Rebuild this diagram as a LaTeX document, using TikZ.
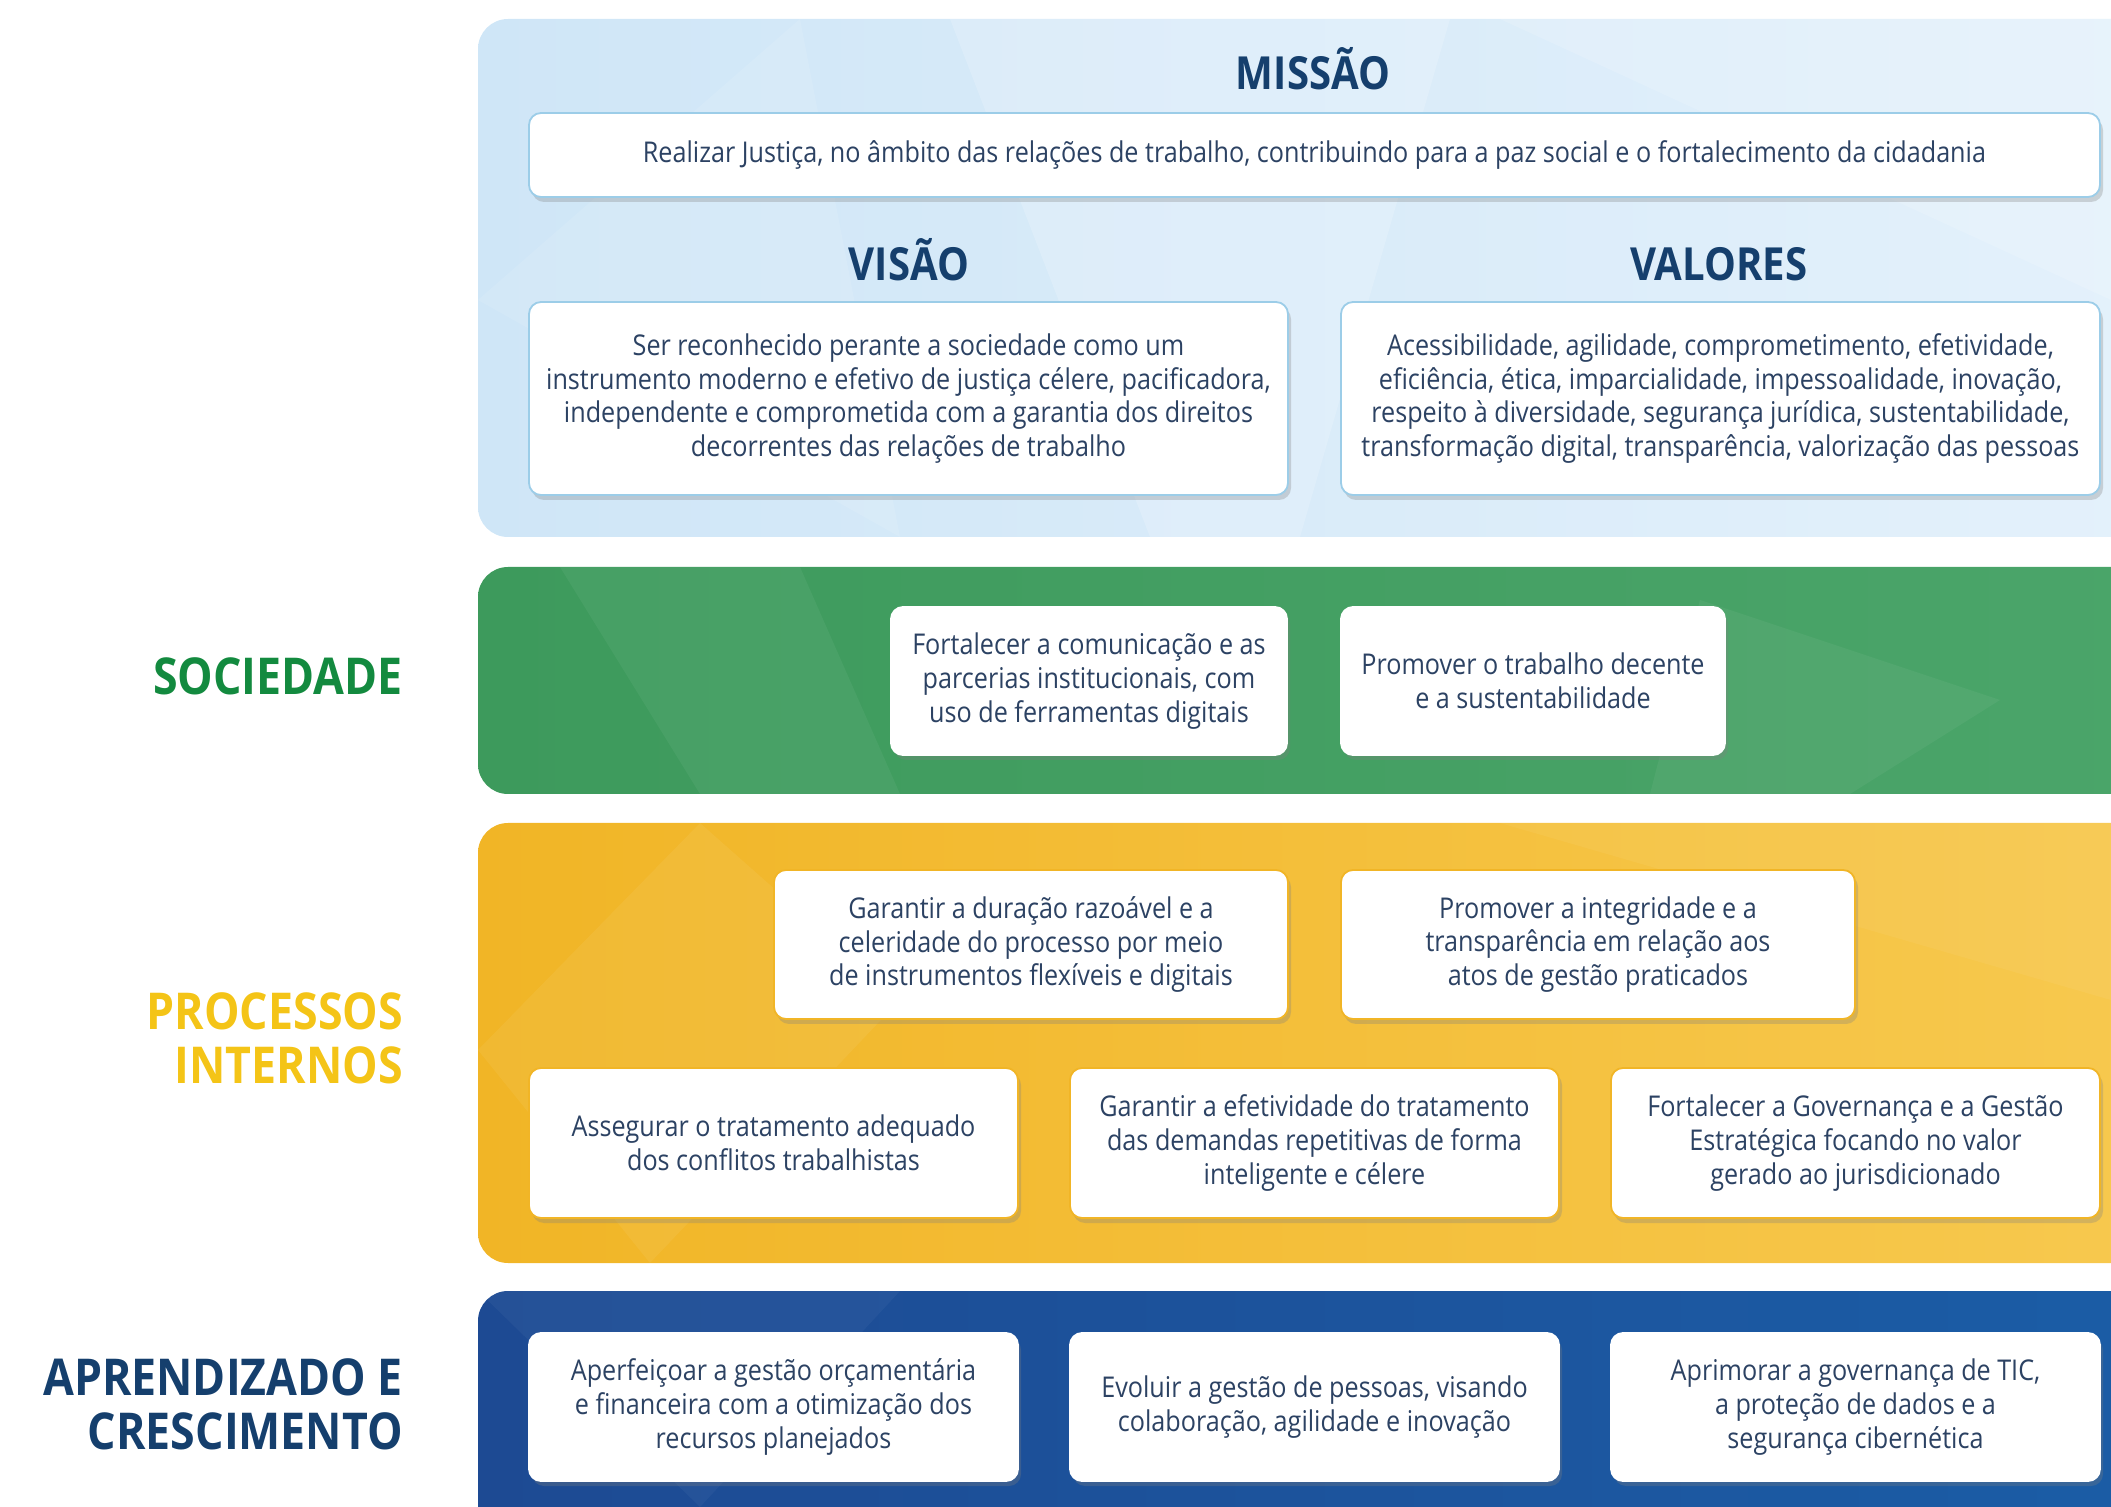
\documentclass[tikz,border=0pt]{standalone}
\usepackage{fontspec}
\setmainfont{Open Sans}[FakeStretch=0.88]
\usetikzlibrary{shadows}

\definecolor{titlenavy}{HTML}{153F6D}
\definecolor{bodynavy}{HTML}{2C4263}
\definecolor{skyleft}{HTML}{CFE6F7}
\definecolor{skyright}{HTML}{E4F1FB}
\definecolor{skyline}{HTML}{9CCDE8}
\definecolor{leafleft}{HTML}{3D9A5C}
\definecolor{leafright}{HTML}{4BA56A}
\definecolor{leaflabel}{HTML}{138A3F}
\definecolor{sunleft}{HTML}{F1B526}
\definecolor{sunright}{HTML}{F7C94F}
\definecolor{sunlabel}{HTML}{F4C417}
\definecolor{seaLeft}{HTML}{1D4A93}
\definecolor{seaRight}{HTML}{1B5DA6}

\tikzset{
  panel/.style={rounded corners=15pt},
  objbox/.style={draw=#1, fill=white, rounded corners=6pt, line width=0.9pt,
    align=center, text=bodynavy, inner sep=2pt,
    font=\fontsize{14.3}{16.8}\selectfont,
    drop shadow={shadow xshift=1.5pt, shadow yshift=-2.5pt, opacity=0.3}},
  heading/.style={text=titlenavy, anchor=base, font=\fontsize{22.8}{26}\selectfont\bfseries},
  perspective/.style={text=#1, anchor=east, align=right,
    font=\fontsize{25.4}{27}\selectfont\bfseries},
}

\begin{document}
\begin{tikzpicture}[x=0.5pt, y=-0.5pt]
\useasboundingbox (0,0) rectangle (2111,1507);

% faixas de fundo
\begin{scope}
  \clip (0,0) rectangle (2111,1507);
  \shade[panel, left color=skyleft, right color=skyright] (478,19) rectangle (2170,537);
  \shade[panel, left color=leafleft, right color=leafright] (478,567) rectangle (2170,794);
  \shade[panel, left color=sunleft, right color=sunright] (478,823) rectangle (2170,1263);
  \shade[panel, left color=seaLeft, right color=seaRight] (478,1291) rectangle (2170,1560);
  % texturas
  \begin{scope}
    \clip[panel] (478,19) rectangle (2170,537);
    \fill[white, opacity=0.18] (950,19) -- (1450,19) -- (1300,537) -- (1150,537) -- cycle;
    \fill[white, opacity=0.15] (1500,19) -- (2111,300) -- (2111,19) -- cycle;
    \fill[white, opacity=0.1] (478,300) -- (800,19) -- (900,537) -- cycle;
  \end{scope}
  \begin{scope}
    \clip[panel] (478,567) rectangle (2170,794);
    \fill[white, opacity=0.05] (560,567) -- (700,794) -- (900,794) -- (800,567) -- cycle;
    \fill[white, opacity=0.05] (1700,600) -- (2000,700) -- (1850,794) -- (1650,794) -- cycle;
  \end{scope}
  \begin{scope}
    \clip[panel] (478,823) rectangle (2170,1263);
    \fill[white, opacity=0.06] (478,1050) -- (700,823) -- (900,1000) -- (650,1263) -- cycle;
    \fill[white, opacity=0.05] (1500,823) -- (2111,1000) -- (2111,823) -- cycle;
  \end{scope}
  \begin{scope}
    \clip[panel] (478,1291) rectangle (2170,1560);
    \fill[white, opacity=0.04] (478,1291) -- (900,1291) -- (700,1507) -- cycle;
  \end{scope}
\end{scope}

% missao, visao e valores
\node[heading] (missaoTitle) at (1313,90) {MISSÃO};
\node[objbox=skyline, minimum width=785.5pt, minimum height=42pt] (missao) at (1314.5,155)
  {Realizar Justiça, no âmbito das relações de trabalho, contribuindo para a paz social e o fortalecimento da cidadania};
\node[heading] (visaoTitle) at (909,281) {VISÃO};
\node[objbox=skyline, minimum width=379.5pt, minimum height=96.5pt] (visao) at (908.5,398.5)
  {Ser reconhecido perante a sociedade como um\\ instrumento moderno e efetivo de justiça célere, pacificadora,\\ independente e comprometida com a garantia dos direitos\\ decorrentes das relações de trabalho};
\node[heading] (valoresTitle) at (1719,281) {VALORES};
\node[objbox=skyline, minimum width=379.5pt, minimum height=96.5pt] (valores) at (1720.5,398.5)
  {Acessibilidade, agilidade, comprometimento, efetividade,\\ eficiência, ética, imparcialidade, impessoalidade, inovação,\\ respeito à diversidade, segurança jurídica, sustentabilidade,\\ transformação digital, transparência, valorização das pessoas};

% sociedade
\node[perspective=leaflabel] (sociedade) at (410,676) {SOCIEDADE};
\node[objbox=white, minimum width=198pt, minimum height=74pt] (soc1) at (1089,681)
  {Fortalecer a comunicação e as\\ parcerias institucionais, com\\ uso de ferramentas digitais};
\node[objbox=white, minimum width=192pt, minimum height=74pt] (soc2) at (1533,681)
  {Promover o trabalho decente\\ e a sustentabilidade};

% processos internos
\node[perspective=sunlabel] (processos) at (410,1038) {PROCESSOS\\ INTERNOS};
\node[objbox=sunleft, minimum width=257pt, minimum height=74.5pt] (proc1) at (1031,944.5)
  {Garantir a duração razoável e a\\ celeridade do processo por meio\\ de instrumentos flexíveis e digitais};
\node[objbox=sunleft, minimum width=257pt, minimum height=74.5pt] (proc2) at (1598,944.5)
  {Promover a integridade e a\\ transparência em relação aos\\ atos de gestão praticados};
\node[objbox=sunleft, minimum width=244.5pt, minimum height=75pt] (proc3) at (773.5,1143)
  {Assegurar o tratamento adequado\\ dos conflitos trabalhistas};
\node[objbox=sunleft, minimum width=244.5pt, minimum height=75pt] (proc4) at (1314.5,1143)
  {Garantir a efetividade do tratamento\\ das demandas repetitivas de forma\\ inteligente e célere};
\node[objbox=sunleft, minimum width=244.5pt, minimum height=75pt] (proc5) at (1855.5,1143)
  {Fortalecer a Governança e a Gestão\\ Estratégica focando no valor\\ gerado ao jurisdicionado};

% aprendizado e crescimento
\node[perspective=titlenavy] (aprendizado) at (410,1404) {APRENDIZADO E\\ CRESCIMENTO};
\node[objbox=white, minimum width=244.5pt, minimum height=74pt] (apr1) at (773.5,1407)
  {Aperfeiçoar a gestão orçamentária\\ e financeira com a otimização dos\\ recursos planejados};
\node[objbox=white, minimum width=244.5pt, minimum height=74pt] (apr2) at (1314.5,1407)
  {Evoluir a gestão de pessoas, visando\\ colaboração, agilidade e inovação};
\node[objbox=white, minimum width=244.5pt, minimum height=74pt] (apr3) at (1855.5,1407)
  {Aprimorar a governança de TIC,\\ a proteção de dados e a\\ segurança cibernética};
\end{tikzpicture}
\end{document}
